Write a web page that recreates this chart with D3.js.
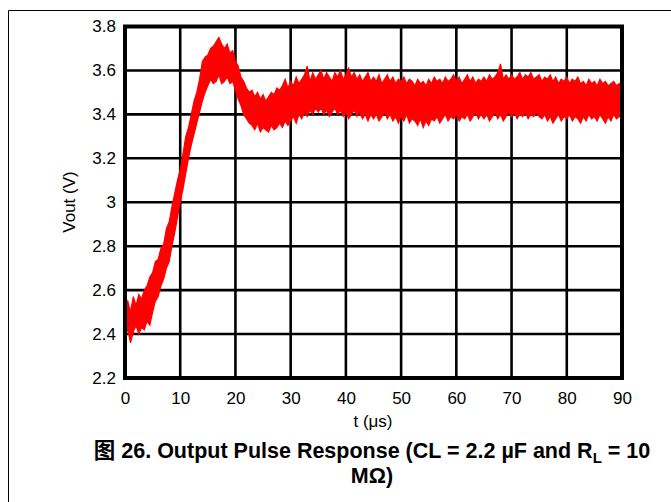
<!DOCTYPE html>
<html><head><meta charset="utf-8">
<script src="https://cdn.jsdelivr.net/npm/d3@7/dist/d3.min.js"></script>
<style>
html,body{margin:0;padding:0;background:#fff;}
svg{display:block;}
text{font-family:Arial,"Liberation Sans",Helvetica,sans-serif;fill:#000;}
</style></head>
<body><svg id="c" width="671" height="502"></svg>
<script>
// ---- data ----
const xTicks = [0,10,20,30,40,50,60,70,80,90];
const yTicks = [2.2,2.4,2.6,2.8,3.0,3.2,3.4,3.6,3.8];
const yTickLabels = ["2.2","2.4","2.6","2.8","3","3.2","3.4","3.6","3.8"];
// time samples (µs), every 0.5 µs
const tSamples = d3.range(0, 90.25, 0.5);
// upper envelope of the noisy trace (V)
const vHigh = [
  2.52,2.55,2.50,2.57,2.53,2.58,2.56,2.60,2.62,2.66,
  2.68,2.73,2.74,2.79,2.81,2.88,2.91,2.98,3.04,3.10,
  3.15,3.22,3.30,3.34,3.40,3.46,3.50,3.56,3.64,3.66,
  3.67,3.70,3.71,3.73,3.75,3.72,3.70,3.72,3.68,3.69,
  3.64,3.62,3.57,3.55,3.52,3.50,3.51,3.48,3.50,3.47,
  3.49,3.46,3.48,3.50,3.49,3.52,3.51,3.53,3.56,3.52,
  3.55,3.53,3.57,3.54,3.56,3.58,3.62,3.55,3.59,3.56,
  3.58,3.60,3.56,3.59,3.57,3.55,3.59,3.57,3.60,3.56,
  3.58,3.61,3.57,3.59,3.56,3.58,3.55,3.57,3.59,3.55,
  3.57,3.55,3.58,3.54,3.56,3.58,3.55,3.57,3.54,3.56,
  3.55,3.57,3.54,3.56,3.55,3.53,3.56,3.54,3.55,3.53,
  3.56,3.54,3.57,3.55,3.56,3.54,3.57,3.55,3.56,3.58,
  3.55,3.57,3.54,3.56,3.58,3.55,3.57,3.54,3.56,3.55,
  3.57,3.55,3.58,3.56,3.57,3.59,3.63,3.56,3.58,3.56,
  3.58,3.56,3.57,3.59,3.56,3.58,3.57,3.59,3.56,3.57,
  3.58,3.55,3.57,3.56,3.58,3.55,3.57,3.54,3.56,3.55,
  3.57,3.54,3.56,3.55,3.57,3.54,3.55,3.53,3.56,3.54,
  3.55,3.53,3.56,3.54,3.55,3.53,3.54,3.55,3.53,3.54,
  3.53];
// lower envelope of the noisy trace (V)
const vLow = [
  2.40,2.42,2.36,2.41,2.44,2.40,2.43,2.42,2.46,2.44,
  2.50,2.55,2.57,2.62,2.65,2.70,2.73,2.80,2.86,2.93,
  3.00,3.06,3.13,3.20,3.26,3.31,3.36,3.41,3.46,3.50,
  3.53,3.56,3.54,3.55,3.58,3.54,3.55,3.57,3.54,3.55,
  3.51,3.47,3.44,3.40,3.38,3.36,3.35,3.33,3.36,3.32,
  3.34,3.33,3.32,3.35,3.33,3.34,3.36,3.34,3.37,3.35,
  3.37,3.39,3.36,3.40,3.38,3.41,3.39,3.42,3.40,3.43,
  3.41,3.43,3.40,3.42,3.39,3.41,3.43,3.40,3.42,3.39,
  3.41,3.38,3.40,3.42,3.39,3.41,3.38,3.40,3.37,3.40,
  3.38,3.40,3.37,3.39,3.41,3.38,3.40,3.37,3.39,3.36,
  3.39,3.37,3.40,3.36,3.38,3.37,3.35,3.38,3.34,3.37,
  3.35,3.38,3.37,3.39,3.36,3.38,3.40,3.37,3.39,3.38,
  3.40,3.37,3.39,3.38,3.40,3.37,3.39,3.41,3.38,3.40,
  3.38,3.40,3.37,3.39,3.41,3.38,3.40,3.37,3.39,3.41,
  3.39,3.41,3.38,3.40,3.39,3.41,3.38,3.40,3.39,3.41,
  3.39,3.38,3.40,3.37,3.39,3.36,3.38,3.40,3.37,3.39,
  3.38,3.40,3.37,3.39,3.38,3.36,3.39,3.37,3.40,3.38,
  3.39,3.37,3.40,3.38,3.36,3.39,3.37,3.40,3.38,3.39,
  3.40];

// ---- layout ----
const svg = d3.select("#c");
const L = 125, R = 622, T = 26.5, B = 378;
const x = d3.scaleLinear().domain([0,90]).range([L,R]);
const y = d3.scaleLinear().domain([2.2,3.8]).range([B,T]);

// outer border (open on right/bottom)
svg.append("path").attr("d","M8.5,502V10.5H671").attr("fill","none").attr("stroke","#000").attr("stroke-width",1);

// grid
const g = svg.append("g");
g.selectAll("line.v").data(xTicks).join("line")
  .attr("x1",d=>x(d)).attr("x2",d=>x(d)).attr("y1",T).attr("y2",B)
  .attr("stroke","#000").attr("stroke-width",2.6);
g.selectAll("line.h").data(yTicks).join("line")
  .attr("y1",d=>y(d)).attr("y2",d=>y(d)).attr("x1",L).attr("x2",R)
  .attr("stroke","#000").attr("stroke-width",2.6);

// trace
const rows = tSamples.map((t,i)=>({t, hi:vHigh[i], lo:vLow[i]}));
const area = d3.area().x(d=>x(d.t)).y0(d=>y(d.lo)).y1(d=>y(d.hi)).curve(d3.curveLinear);
svg.append("path").datum(rows).attr("d",area)
  .attr("fill","#ff0000").attr("stroke","#ff0000").attr("stroke-width",1.2).attr("stroke-linejoin","miter");

// frame
svg.append("rect").attr("x",L).attr("y",T).attr("width",R-L).attr("height",B-T)
  .attr("fill","none").attr("stroke","#000").attr("stroke-width",4);

// axes labels
const yAxis = d3.axisLeft(y).tickValues(yTicks).tickSize(0).tickPadding(9)
  .tickFormat((d,i)=>yTickLabels[i]);
const ya = svg.append("g").attr("transform",`translate(${L},0)`).call(yAxis);
ya.select(".domain").remove();
ya.selectAll("text").attr("font-size",17).attr("font-family",null);

const xAxis = d3.axisBottom(x).tickValues(xTicks).tickSize(0).tickPadding(14);
const xa = svg.append("g").attr("transform",`translate(0,${B})`).call(xAxis);
xa.select(".domain").remove();
xa.selectAll("text").attr("font-size",17).attr("font-family",null);

svg.append("text").attr("x",373).attr("y",427).attr("text-anchor","middle")
  .attr("font-size",17).text("t (μs)");
svg.append("text").attr("transform","translate(74.5,202) rotate(-90)")
  .attr("text-anchor","middle").attr("font-size",17).text("Vout (V)");

// caption
const cap = svg.append("text").attr("x",372).attr("y",458).attr("text-anchor","middle")
  .attr("font-size",21.5).attr("font-weight","bold");
cap.append("tspan").attr("font-family","'Noto Sans CJK SC'").text("图");
cap.append("tspan").text(" 26. Output Pulse Response (CL = 2.2 µF and R");
cap.append("tspan").attr("font-size",15).attr("dy",5).text("L");
cap.append("tspan").attr("dy",-5).text(" = 10");
svg.append("text").attr("x",372).attr("y",483).attr("text-anchor","middle")
  .attr("font-size",21.5).attr("font-weight","bold").text("MΩ)");
</script></body></html>
